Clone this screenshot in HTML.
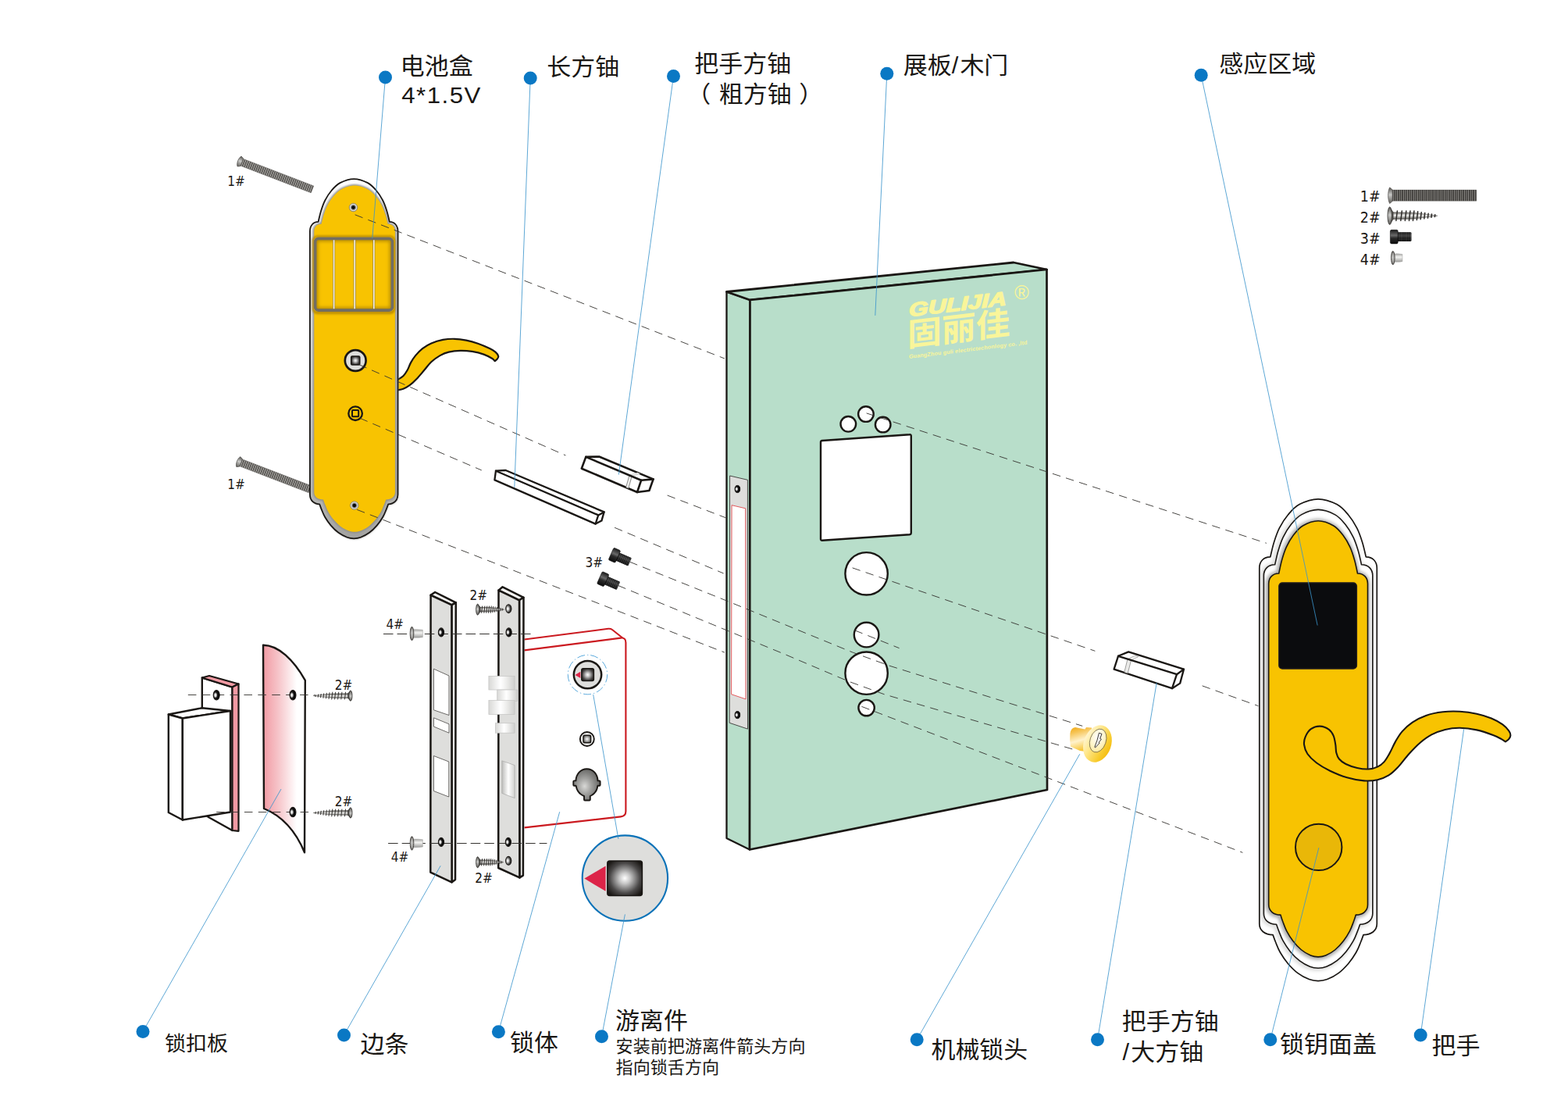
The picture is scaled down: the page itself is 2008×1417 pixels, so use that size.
<!DOCTYPE html>
<html lang="zh-CN">
<head>
<meta charset="utf-8">
<title>门锁安装示意图</title>
<style>
html,body{margin:0;padding:0;background:#fff;}
body{width:2008px;height:1417px;overflow:hidden;}
svg{display:block;}
</style>
</head>
<body>
<svg width="2008" height="1417" viewBox="0 0 2008 1417">
<defs>
<linearGradient id="gRim" x1="0" y1="0" x2="0" y2="1">
<stop offset="0" stop-color="#ffffff"/><stop offset="0.1" stop-color="#f0f0ef"/><stop offset="0.5" stop-color="#d4d4d2"/><stop offset="0.9" stop-color="#b4b4b2"/><stop offset="1" stop-color="#a2a2a0"/>
</linearGradient>
<linearGradient id="gRim2" x1="0" y1="0" x2="1" y2="0">
<stop offset="0" stop-color="#ffffff"/><stop offset="0.5" stop-color="#d9d9d7"/><stop offset="1" stop-color="#ffffff"/>
</linearGradient>
<linearGradient id="gPink" x1="0" y1="0" x2="1" y2="0">
<stop offset="0" stop-color="#f19aa3"/><stop offset="0.35" stop-color="#f6c3c8"/><stop offset="0.8" stop-color="#ffffff"/><stop offset="1" stop-color="#ffffff"/>
</linearGradient>
<radialGradient id="gHole" cx="0.36" cy="0.5" r="0.62">
<stop offset="0" stop-color="#ffffff"/><stop offset="0.22" stop-color="#e8e8e8"/><stop offset="0.6" stop-color="#5e5e5c"/><stop offset="1" stop-color="#0e0d0c"/>
</radialGradient>
<radialGradient id="gHoleD" cx="0.34" cy="0.5" r="0.5">
<stop offset="0" stop-color="#ffffff"/><stop offset="0.3" stop-color="#d8d8d8"/><stop offset="0.62" stop-color="#1c1b1a"/><stop offset="1" stop-color="#050505"/>
</radialGradient>
<radialGradient id="gSq" cx="0.5" cy="0.5" r="0.62">
<stop offset="0" stop-color="#ffffff"/><stop offset="0.25" stop-color="#c8c8c8"/><stop offset="0.7" stop-color="#4a4848"/><stop offset="1" stop-color="#1a1714"/>
</radialGradient>
<radialGradient id="gKey" cx="0.42" cy="0.55" r="0.62">
<stop offset="0" stop-color="#d8d8d6"/><stop offset="0.4" stop-color="#a2a2a0"/><stop offset="1" stop-color="#5c5c5a"/>
</radialGradient>
<radialGradient id="gSq2" cx="0.5" cy="0.5" r="0.62">
<stop offset="0" stop-color="#ffffff"/><stop offset="0.4" stop-color="#b8b8b6"/><stop offset="1" stop-color="#3a3a38"/>
</radialGradient>
<radialGradient id="gScrewHole" cx="0.5" cy="0.5" r="0.5">
<stop offset="0" stop-color="#000000"/><stop offset="0.3" stop-color="#111111"/><stop offset="0.55" stop-color="#8c8c8a"/><stop offset="0.8" stop-color="#e6e6e4"/><stop offset="1" stop-color="#777570"/>
</radialGradient>
<linearGradient id="gLatch" x1="0" y1="0" x2="1" y2="0">
<stop offset="0" stop-color="#d8d8d6"/><stop offset="0.45" stop-color="#ffffff"/><stop offset="0.6" stop-color="#f4f4f3"/><stop offset="1" stop-color="#cfcfcd"/>
</linearGradient>
<linearGradient id="gShiny" x1="0" y1="0" x2="1" y2="0">
<stop offset="0" stop-color="#bdbdbb"/><stop offset="0.5" stop-color="#ffffff"/><stop offset="1" stop-color="#d0d0ce"/>
</linearGradient>
<linearGradient id="gHead" x1="0" y1="0" x2="0" y2="1">
<stop offset="0" stop-color="#55534f"/><stop offset="0.45" stop-color="#c9c9c7"/><stop offset="1" stop-color="#5d5b57"/>
</linearGradient>
<linearGradient id="gShaft2" x1="0" y1="0" x2="0" y2="1">
<stop offset="0" stop-color="#6a6864"/><stop offset="0.45" stop-color="#f2f2f0"/><stop offset="1" stop-color="#55534f"/>
</linearGradient>
<linearGradient id="gPlug" x1="0" y1="0" x2="0" y2="1">
<stop offset="0" stop-color="#a5a5a3"/><stop offset="0.4" stop-color="#f4f4f2"/><stop offset="1" stop-color="#9b9b99"/>
</linearGradient>
<linearGradient id="gBlk" x1="0" y1="0" x2="0" y2="1">
<stop offset="0" stop-color="#1a1a1a"/><stop offset="0.4" stop-color="#6a6a6a"/><stop offset="0.6" stop-color="#2a2a2a"/><stop offset="1" stop-color="#0c0c0c"/>
</linearGradient>
<linearGradient id="gCyl" x1="0" y1="0" x2="0.25" y2="1">
<stop offset="0" stop-color="#f1aa12"/><stop offset="0.25" stop-color="#f6c456"/><stop offset="0.6" stop-color="#fff2cc"/><stop offset="1" stop-color="#f7c433"/>
</linearGradient>
<linearGradient id="gCylF" x1="0" y1="0.3" x2="1" y2="0.6">
<stop offset="0" stop-color="#fff6d4"/><stop offset="0.35" stop-color="#ffe88f"/><stop offset="0.8" stop-color="#f8cb2c"/><stop offset="1" stop-color="#f5bd10"/>
</linearGradient>
<radialGradient id="gCylI" cx="0.4" cy="0.35" r="0.7">
<stop offset="0" stop-color="#ffffff"/><stop offset="0.5" stop-color="#fff6d2"/><stop offset="1" stop-color="#ffe999"/>
</radialGradient>
<pattern id="pThread" width="2.6" height="20" patternUnits="userSpaceOnUse">
<rect width="2.6" height="20" fill="#4d4b48"/><rect x="1.5" width="1.1" height="20" fill="#b4b2ae"/>
</pattern>
<pattern id="pThreadD" width="2.6" height="20" patternUnits="userSpaceOnUse">
<rect width="2.6" height="20" fill="#403e3b"/><rect x="1.7" width="0.9" height="20" fill="#8f8d89"/>
</pattern>
<pattern id="pThreadB" width="2.4" height="20" patternUnits="userSpaceOnUse">
<rect width="2.4" height="20" fill="#121212"/><rect x="1.5" width="0.9" height="20" fill="#4e4e4e"/>
</pattern>
<filter id="fBlur1" x="-20%" y="-20%" width="140%" height="140%"><feGaussianBlur stdDeviation="1.2"/></filter>
<filter id="fBlur2" x="-20%" y="-20%" width="140%" height="140%"><feGaussianBlur stdDeviation="2.2"/></filter>
<filter id="fBlur05" x="-20%" y="-20%" width="140%" height="140%"><feGaussianBlur stdDeviation="0.6"/></filter>
</defs>
<rect width="2008" height="1417" fill="#ffffff"/>
<g id="door"><polygon points="930.5,373.5 960.5,384 960,1087.5 930.5,1073" fill="#b8deca" stroke="#1a1714" stroke-width="2.3" stroke-linejoin="round" />
<polygon points="930.5,373.5 1298,336 1340.5,345 960.5,384" fill="#b8deca" stroke="#1a1714" stroke-width="2.8" stroke-linejoin="round" />
<polygon points="960.5,384 1340.5,345 1341,1011 960,1087.5" fill="#b8deca" stroke="#1a1714" stroke-width="2.7" stroke-linejoin="round" />
<polygon points="934.6,609 957.4,614.3 957.5,933.1 934.2,925.3" fill="#dededc" stroke="#3a3835" stroke-width="0.9" stroke-linejoin="round" />
<polygon points="937.1,646.7 954.7,650.8 955,894.9 936.6,888.7" fill="#ffffff" stroke="#e0474b" stroke-width="0.9" stroke-linejoin="round" />
<ellipse cx="944.4" cy="626" rx="3.3" ry="4.6" fill="url(#gHoleD)" stroke="#1a1714" stroke-width="1" />
<ellipse cx="944.4" cy="915.1" rx="3.3" ry="4.6" fill="url(#gHoleD)" stroke="#1a1714" stroke-width="1" />
<circle cx="1086.3" cy="542.8" r="9.8" fill="#fff" stroke="#1a1714" stroke-width="2.4" />
<circle cx="1108.9" cy="530.1" r="9.8" fill="#fff" stroke="#1a1714" stroke-width="2.4" />
<circle cx="1130.7" cy="543.6" r="9.8" fill="#fff" stroke="#1a1714" stroke-width="2.4" />
<path d="M1053,564 L1164.8,556.3 Q1166.8,556.1 1166.8,558.1 L1166.8,682 Q1166.8,684 1164.8,684.2 L1053,691.8 Q1051,692 1051,690 L1051,566 Q1051,564.1 1053,564 Z" fill="#fff" stroke="#1a1714" stroke-width="2.4" stroke-linejoin="round" />
<circle cx="1109.6" cy="734.3" r="27.2" fill="#fff" stroke="#1a1714" stroke-width="2.4" />
<circle cx="1109.6" cy="812.6" r="15.8" fill="#fff" stroke="#1a1714" stroke-width="2.4" />
<circle cx="1109.6" cy="861.7" r="27.2" fill="#fff" stroke="#1a1714" stroke-width="2.4" />
<circle cx="1109.6" cy="906.1" r="10.2" fill="#fff" stroke="#1a1714" stroke-width="2.4" />
<g transform="translate(1163.6,404.1) skewY(-6.9)">
<text x="0.4" y="1.2" font-family="'Liberation Sans',sans-serif" font-weight="bold" font-style="italic" font-size="24.6" fill="#f9f59a" stroke="#f9f59a" stroke-width="1.4" stroke-linejoin="round" textLength="125" lengthAdjust="spacingAndGlyphs">GULIJIA</text>
<text x="-1.6" y="39.2" font-family="'Liberation Sans','Noto Sans CJK SC',sans-serif" font-weight="bold" font-size="41.2" fill="#f9f59a" textLength="131.5" lengthAdjust="spacingAndGlyphs">固丽佳</text>
<text x="0.3" y="55" font-family="'Liberation Sans',sans-serif" font-weight="bold" font-size="7.2" fill="#f9f59a" textLength="151.5" lengthAdjust="spacing">GuangZhou guli electrictechonlogy co. ,ltd</text>
</g>
<text x="1308.5" y="383.1" text-anchor="middle" font-family="'Liberation Sans',sans-serif" font-size="25.5" fill="#f9f59a">®</text></g>
<g id="screws1"><g transform="translate(306.5,206.5) rotate(21)">
<rect x="1.5" y="-4.8" width="98.7" height="9.6" rx="0.5" fill="url(#pThread)" stroke="none" stroke-width="0" />
<rect x="1.5" y="-4.8" width="98.7" height="9.6" rx="0.5" fill="none" stroke="#3d3b38" stroke-width="0.5" opacity="0.6"/>
<path d="M0,-6.91 C3.2,-5.53 3.2,-5.3 3.6,-4.8 L3.6,4.8 C3.2,5.3 3.2,5.53 0,6.91 C-2.6,3.46 -2.6,-3.46 0,-6.91 Z" fill="url(#gHead)" stroke="#4a4845" stroke-width="0.7" stroke-linejoin="round" />
</g>
<g transform="translate(305.3,591.1) rotate(21)">
<rect x="1.5" y="-4.8" width="98.7" height="9.6" rx="0.5" fill="url(#pThread)" stroke="none" stroke-width="0" />
<rect x="1.5" y="-4.8" width="98.7" height="9.6" rx="0.5" fill="none" stroke="#3d3b38" stroke-width="0.5" opacity="0.6"/>
<path d="M0,-6.91 C3.2,-5.53 3.2,-5.3 3.6,-4.8 L3.6,4.8 C3.2,5.3 3.2,5.53 0,6.91 C-2.6,3.46 -2.6,-3.46 0,-6.91 Z" fill="url(#gHead)" stroke="#4a4845" stroke-width="0.7" stroke-linejoin="round" />
</g></g>
<g id="backplate"><path d="M633.7,462.2 C633.08,461.63 632.37,460.23 630,458.8 C627.63,457.37 623.73,455.08 619.5,453.6 C615.27,452.12 609.58,450.7 604.6,449.9 C599.62,449.1 594.58,448.68 589.6,448.8 C584.62,448.92 579.05,449.55 574.7,450.6 C570.35,451.65 567.23,452.98 563.5,455.1 C559.77,457.22 555.67,460.18 552.3,463.3 C548.93,466.42 546.42,470.18 543.3,473.8 C540.18,477.42 536.72,481.77 533.6,485 C530.48,488.23 527.47,491.08 524.6,493.2 C521.73,495.32 518.88,496.7 516.4,497.7 C513.92,498.7 511.6,498.92 509.7,499.2 C507.8,499.48 505.78,501.35 505,499.4 C504.22,497.45 504.22,489.78 505,487.5 C505.78,485.22 507.8,486.73 509.7,485.7 C511.6,484.67 514.4,483.28 516.4,481.3 C518.4,479.32 520.08,476.67 521.7,473.8 C523.32,470.93 524.37,467.22 526.1,464.1 C527.83,460.98 529.6,458.1 532.1,455.1 C534.6,452.1 537.73,448.72 541.1,446.1 C544.47,443.48 547.95,441.27 552.3,439.4 C556.65,437.53 562.22,435.83 567.2,434.9 C572.18,433.97 577.22,433.67 582.2,433.8 C587.18,433.93 592.13,434.7 597.1,435.7 C602.07,436.7 607.02,438.07 612,439.8 C616.98,441.53 623.25,444.3 627,446.1 C630.75,447.9 632.63,448.97 634.5,450.6 C636.37,452.23 637.83,454.4 638.2,455.9 C638.57,457.4 637.45,458.55 636.7,459.6 C635.95,460.65 634.2,461.77 633.7,462.2 Z" fill="#f8c301" stroke="#1a1714" stroke-width="2.2" stroke-linejoin="round" />
<clipPath id="cBack"><path d="M396.9,296.1 C396.9,288.78 401.18,283.9 407.6,283.9 C408.17,281.62 409.58,274.77 411.02,270.2 C412.46,265.63 414.02,260.87 416.26,256.5 C418.51,252.13 421.28,247.73 424.47,244.01 C427.66,240.28 430.63,236.63 435.42,234.14 C440.2,231.66 447.27,229.1 453.2,229.1 C459.13,229.1 466.2,231.66 470.98,234.14 C475.77,236.63 478.74,240.28 481.93,244.01 C485.12,247.73 487.89,252.13 490.14,256.5 C492.38,260.87 493.94,265.63 495.38,270.2 C496.82,274.77 498.23,281.62 498.8,283.9 C505.22,283.9 509.5,288.78 509.5,296.1 L509.5,633.1 C509.5,640.42 504.58,645.3 497.2,645.3 C496.76,646.47 495.73,649.55 494.56,652.34 C493.39,655.13 492.14,658.65 490.16,662.02 C488.18,665.39 485.54,669.28 482.68,672.58 C479.82,675.88 476.45,679.29 473,681.82 C469.55,684.35 465.3,686.51 462,687.76 C458.7,689.01 456.13,689.3 453.2,689.3 C450.27,689.3 447.7,689.01 444.4,687.76 C441.1,686.51 436.85,684.35 433.4,681.82 C429.95,679.29 426.58,675.88 423.72,672.58 C420.86,669.28 418.22,665.39 416.24,662.02 C414.26,658.65 413.01,655.13 411.84,652.34 C410.67,649.55 409.64,646.47 409.2,645.3 C401.82,645.3 396.9,640.42 396.9,633.1 Z"/></clipPath>
<path d="M396.9,296.1 C396.9,288.78 401.18,283.9 407.6,283.9 C408.17,281.62 409.58,274.77 411.02,270.2 C412.46,265.63 414.02,260.87 416.26,256.5 C418.51,252.13 421.28,247.73 424.47,244.01 C427.66,240.28 430.63,236.63 435.42,234.14 C440.2,231.66 447.27,229.1 453.2,229.1 C459.13,229.1 466.2,231.66 470.98,234.14 C475.77,236.63 478.74,240.28 481.93,244.01 C485.12,247.73 487.89,252.13 490.14,256.5 C492.38,260.87 493.94,265.63 495.38,270.2 C496.82,274.77 498.23,281.62 498.8,283.9 C505.22,283.9 509.5,288.78 509.5,296.1 L509.5,633.1 C509.5,640.42 504.58,645.3 497.2,645.3 C496.76,646.47 495.73,649.55 494.56,652.34 C493.39,655.13 492.14,658.65 490.16,662.02 C488.18,665.39 485.54,669.28 482.68,672.58 C479.82,675.88 476.45,679.29 473,681.82 C469.55,684.35 465.3,686.51 462,687.76 C458.7,689.01 456.13,689.3 453.2,689.3 C450.27,689.3 447.7,689.01 444.4,687.76 C441.1,686.51 436.85,684.35 433.4,681.82 C429.95,679.29 426.58,675.88 423.72,672.58 C420.86,669.28 418.22,665.39 416.24,662.02 C414.26,658.65 413.01,655.13 411.84,652.34 C410.67,649.55 409.64,646.47 409.2,645.3 C401.82,645.3 396.9,640.42 396.9,633.1 Z" fill="#b0b0ae" stroke="none" stroke-width="0" stroke-linejoin="round" filter="url(#fBlur1)" transform="translate(0.6,1.2)" opacity="0.8"/>
<path d="M396.9,296.1 C396.9,288.78 401.18,283.9 407.6,283.9 C408.17,281.62 409.58,274.77 411.02,270.2 C412.46,265.63 414.02,260.87 416.26,256.5 C418.51,252.13 421.28,247.73 424.47,244.01 C427.66,240.28 430.63,236.63 435.42,234.14 C440.2,231.66 447.27,229.1 453.2,229.1 C459.13,229.1 466.2,231.66 470.98,234.14 C475.77,236.63 478.74,240.28 481.93,244.01 C485.12,247.73 487.89,252.13 490.14,256.5 C492.38,260.87 493.94,265.63 495.38,270.2 C496.82,274.77 498.23,281.62 498.8,283.9 C505.22,283.9 509.5,288.78 509.5,296.1 L509.5,633.1 C509.5,640.42 504.58,645.3 497.2,645.3 C496.76,646.47 495.73,649.55 494.56,652.34 C493.39,655.13 492.14,658.65 490.16,662.02 C488.18,665.39 485.54,669.28 482.68,672.58 C479.82,675.88 476.45,679.29 473,681.82 C469.55,684.35 465.3,686.51 462,687.76 C458.7,689.01 456.13,689.3 453.2,689.3 C450.27,689.3 447.7,689.01 444.4,687.76 C441.1,686.51 436.85,684.35 433.4,681.82 C429.95,679.29 426.58,675.88 423.72,672.58 C420.86,669.28 418.22,665.39 416.24,662.02 C414.26,658.65 413.01,655.13 411.84,652.34 C410.67,649.55 409.64,646.47 409.2,645.3 C401.82,645.3 396.9,640.42 396.9,633.1 Z" fill="url(#gRim)" stroke="none" stroke-width="0" stroke-linejoin="round" />
<g clip-path="url(#cBack)">
<path d="M402.3,296.3 C402.3,290.6 406.02,286.8 411.6,286.8 C412.13,284.75 413.44,278.6 414.79,274.5 C416.13,270.4 417.59,266.12 419.68,262.2 C421.76,258.28 424.35,254.33 427.33,250.98 C430.3,247.64 433.06,244.36 437.53,242.13 C441.99,239.9 448.58,237.6 454.1,237.6 C459.62,237.6 466.21,239.9 470.68,242.13 C475.14,244.36 477.9,247.64 480.88,250.98 C483.85,254.33 486.44,258.28 488.53,262.2 C490.61,266.12 492.07,270.4 493.41,274.5 C494.76,278.6 496.07,284.75 496.6,286.8 C502.18,286.8 505.9,290.6 505.9,296.3 L505.9,630 C505.9,635.7 501.22,639.5 494.2,639.5 C493.8,640.6 492.86,643.49 491.79,646.11 C490.72,648.72 489.59,652.03 487.78,655.19 C485.98,658.36 483.57,662.01 480.97,665.11 C478.36,668.2 475.29,671.4 472.15,673.78 C469,676.15 465.13,678.18 462.12,679.35 C459.11,680.52 456.77,680.8 454.1,680.8 C451.43,680.8 449.09,680.52 446.08,679.35 C443.07,678.18 439.2,676.15 436.06,673.78 C432.91,671.4 429.84,668.2 427.23,665.11 C424.63,662.01 422.22,658.36 420.42,655.19 C418.61,652.03 417.48,648.72 416.41,646.11 C415.34,643.49 414.4,640.6 414,639.5 C406.98,639.5 402.3,635.7 402.3,630 Z" fill="none" stroke="#8f8f8c" stroke-width="3.2" stroke-linejoin="round" filter="url(#fBlur1)"/>
<path d="M402.3,296.3 C402.3,290.6 406.02,286.8 411.6,286.8 C412.13,284.75 413.44,278.6 414.79,274.5 C416.13,270.4 417.59,266.12 419.68,262.2 C421.76,258.28 424.35,254.33 427.33,250.98 C430.3,247.64 433.06,244.36 437.53,242.13 C441.99,239.9 448.58,237.6 454.1,237.6 C459.62,237.6 466.21,239.9 470.68,242.13 C475.14,244.36 477.9,247.64 480.88,250.98 C483.85,254.33 486.44,258.28 488.53,262.2 C490.61,266.12 492.07,270.4 493.41,274.5 C494.76,278.6 496.07,284.75 496.6,286.8 C502.18,286.8 505.9,290.6 505.9,296.3 L505.9,630 C505.9,635.7 501.22,639.5 494.2,639.5 C493.8,640.6 492.86,643.49 491.79,646.11 C490.72,648.72 489.59,652.03 487.78,655.19 C485.98,658.36 483.57,662.01 480.97,665.11 C478.36,668.2 475.29,671.4 472.15,673.78 C469,676.15 465.13,678.18 462.12,679.35 C459.11,680.52 456.77,680.8 454.1,680.8 C451.43,680.8 449.09,680.52 446.08,679.35 C443.07,678.18 439.2,676.15 436.06,673.78 C432.91,671.4 429.84,668.2 427.23,665.11 C424.63,662.01 422.22,658.36 420.42,655.19 C418.61,652.03 417.48,648.72 416.41,646.11 C415.34,643.49 414.4,640.6 414,639.5 C406.98,639.5 402.3,635.7 402.3,630 Z" fill="#f8c301" stroke="none" stroke-width="0" stroke-linejoin="round" />
</g>
<path d="M396.9,296.1 C396.9,288.78 401.18,283.9 407.6,283.9 C408.17,281.62 409.58,274.77 411.02,270.2 C412.46,265.63 414.02,260.87 416.26,256.5 C418.51,252.13 421.28,247.73 424.47,244.01 C427.66,240.28 430.63,236.63 435.42,234.14 C440.2,231.66 447.27,229.1 453.2,229.1 C459.13,229.1 466.2,231.66 470.98,234.14 C475.77,236.63 478.74,240.28 481.93,244.01 C485.12,247.73 487.89,252.13 490.14,256.5 C492.38,260.87 493.94,265.63 495.38,270.2 C496.82,274.77 498.23,281.62 498.8,283.9 C505.22,283.9 509.5,288.78 509.5,296.1 L509.5,633.1 C509.5,640.42 504.58,645.3 497.2,645.3 C496.76,646.47 495.73,649.55 494.56,652.34 C493.39,655.13 492.14,658.65 490.16,662.02 C488.18,665.39 485.54,669.28 482.68,672.58 C479.82,675.88 476.45,679.29 473,681.82 C469.55,684.35 465.3,686.51 462,687.76 C458.7,689.01 456.13,689.3 453.2,689.3 C450.27,689.3 447.7,689.01 444.4,687.76 C441.1,686.51 436.85,684.35 433.4,681.82 C429.95,679.29 426.58,675.88 423.72,672.58 C420.86,669.28 418.22,665.39 416.24,662.02 C414.26,658.65 413.01,655.13 411.84,652.34 C410.67,649.55 409.64,646.47 409.2,645.3 C401.82,645.3 396.9,640.42 396.9,633.1 Z" fill="none" stroke="#1a1714" stroke-width="1.8" stroke-linejoin="round" />
<clipPath id="cBat"><rect x="403.3" y="305.1" width="99.4" height="92.4" rx="4"/></clipPath>
<g clip-path="url(#cBack)">
<rect x="399.6" y="301.2" width="106.8" height="101" rx="7" fill="#b98a00" stroke="none" stroke-width="0" filter="url(#fBlur1)" opacity="0.85"/>
</g>
<rect x="401.8" y="303.6" width="102.4" height="95.4" rx="5" fill="#f8c301" stroke="none" stroke-width="0" />
<g clip-path="url(#cBat)">
<rect x="403.5" y="305.3" width="99" height="92" rx="4" fill="none" stroke="#b58a00" stroke-width="7.5" filter="url(#fBlur2)"/>
<line x1="427" y1="303.6" x2="427" y2="399" stroke="#b08600" stroke-width="5.5" filter="url(#fBlur1)" opacity="0.8"/>
<line x1="453.6" y1="303.6" x2="453.6" y2="399" stroke="#b08600" stroke-width="5.5" filter="url(#fBlur1)" opacity="0.8"/>
<line x1="478.2" y1="303.6" x2="478.2" y2="399" stroke="#b08600" stroke-width="5.5" filter="url(#fBlur1)" opacity="0.8"/>
<line x1="427.6" y1="303.6" x2="427.6" y2="399" stroke="#8d7a3a" stroke-width="3.2" opacity="0.8"/>
<line x1="427.6" y1="303.6" x2="427.6" y2="399" stroke="#f1ecdf" stroke-width="1.7" />
<line x1="454.2" y1="303.6" x2="454.2" y2="399" stroke="#8d7a3a" stroke-width="3.2" opacity="0.8"/>
<line x1="454.2" y1="303.6" x2="454.2" y2="399" stroke="#f1ecdf" stroke-width="1.7" />
<line x1="478.8" y1="303.6" x2="478.8" y2="399" stroke="#8d7a3a" stroke-width="3.2" opacity="0.8"/>
<line x1="478.8" y1="303.6" x2="478.8" y2="399" stroke="#f1ecdf" stroke-width="1.7" />
</g>
<rect x="403.6" y="305.4" width="98.8" height="91.8" rx="4" fill="none" stroke="#716d63" stroke-width="3.7" />
<circle cx="452.5" cy="265.5" r="5.3" fill="url(#gScrewHole)" stroke="#8a8880" stroke-width="0.6" />
<circle cx="452.5" cy="265.5" r="1.9" fill="#0a0a0a" stroke="none" stroke-width="0" />
<circle cx="453.8" cy="647" r="5.3" fill="url(#gScrewHole)" stroke="#8a8880" stroke-width="0.6" />
<circle cx="453.8" cy="647" r="1.9" fill="#0a0a0a" stroke="none" stroke-width="0" />
<circle cx="455.2" cy="461.5" r="13.4" fill="#dededc" stroke="#1a1714" stroke-width="2.7" />
<rect x="449.7" y="456" width="11" height="11" rx="1.2" fill="url(#gSq)" stroke="#1a1714" stroke-width="1.6" />
<circle cx="455.1" cy="529.2" r="8.8" fill="#f8c301" stroke="#1a1714" stroke-width="2.3" />
<rect x="451" y="525.1" width="8.2" height="8.2" rx="0.8" fill="#f8c301" stroke="#1a1714" stroke-width="2" /></g>
<g id="shafts"><polygon points="635,602.7 647.6,602 773.6,655.4 770.4,666.6 762.6,670.6 633.4,614.4" fill="#fff" stroke="#1a1714" stroke-width="2.3" stroke-linejoin="round" />
<polyline points="635,602.7 766.2,659.4 762.6,670.6" fill="none" stroke="#1a1714" stroke-width="2.3" stroke-linejoin="round" stroke-linecap="round" />
<polyline points="766.2,659.4 773.6,655.4" fill="none" stroke="#1a1714" stroke-width="2.3" stroke-linejoin="round" stroke-linecap="round" />
<polygon points="750.3,584.9 767.3,584.5 836.6,613.4 831.4,628 816,630 744.8,599.7" fill="#fff" stroke="#1a1714" stroke-width="2.6" stroke-linejoin="round" />
<polygon points="806,608.2 809.2,609.6 804.8,625.2 801.6,623.8" fill="#f0f0ee" stroke="#5f5f5d" stroke-width="0.7" stroke-linejoin="round" /><polygon points="806,608.2 809.2,609.6 819.5,606.4 816.5,605" fill="#f4f4f2" stroke="#b0b0ae" stroke-width="0.6" stroke-linejoin="round" />
<polyline points="750.3,584.9 821.1,614.8 816,630" fill="none" stroke="#1a1714" stroke-width="2.6" stroke-linejoin="round" stroke-linecap="round" />
<polyline points="821.1,614.8 836.6,613.4" fill="none" stroke="#1a1714" stroke-width="2.6" stroke-linejoin="round" stroke-linecap="round" />
<polygon points="1432,839.8 1445.2,834.4 1516,856.6 1511.2,874.6 1501,881.2 1426.6,856.6" fill="#fff" stroke="#1a1714" stroke-width="2.3" stroke-linejoin="round" />
<polygon points="1444,843.6 1448.6,845.1 1444.2,861.9 1439.8,860.5" fill="#ebebe9" stroke="#777775" stroke-width="0.7" stroke-linejoin="round" />
<polygon points="1444,843.6 1448.6,845.1 1457.8,840.6 1453.6,839.2" fill="#f2f2f0" stroke="#8a8a88" stroke-width="0.6" stroke-linejoin="round" />
<polyline points="1432,839.8 1507,863.2 1501,881.2" fill="none" stroke="#1a1714" stroke-width="2.3" stroke-linejoin="round" stroke-linecap="round" />
<polyline points="1507,863.2 1516,856.6" fill="none" stroke="#1a1714" stroke-width="2.3" stroke-linejoin="round" stroke-linecap="round" /></g>
<g id="strike"><polygon points="258.8,867.5 297.5,879.5 297.5,1063 267.5,1046.2 258.8,1040" fill="#fff" stroke="#1a1714" stroke-width="2.4" stroke-linejoin="round" />
<polygon points="258.8,867.5 268,865 305.5,875.5 297.5,879.5" fill="#f19aa3" stroke="#1a1714" stroke-width="2.2" stroke-linejoin="round" />
<polygon points="297.5,879.5 305.5,875.5 305.5,1063.8 297.5,1063" fill="#f19aa3" stroke="#1a1714" stroke-width="2.2" stroke-linejoin="round" />
<polygon points="215.8,914.5 258.8,906.2 295,910 233.8,919.5" fill="#fff" stroke="#1a1714" stroke-width="2.4" stroke-linejoin="round" />
<polygon points="215.8,914.5 233.8,919.5 233.8,1049.5 215.8,1040" fill="#fff" stroke="#1a1714" stroke-width="2.4" stroke-linejoin="round" />
<polygon points="233.8,919.5 295,910 295,1039.5 233.8,1049.5" fill="#fff" stroke="#1a1714" stroke-width="2.4" stroke-linejoin="round" />
<path d="M337,825.8 C357,826 376,845 390.8,870.8 L390,1091.2 C378,1062 360,1044 338,1035 Z" fill="url(#gPink)" stroke="#1a1714" stroke-width="2.4" stroke-linejoin="round" /></g>
<g id="lockbody"><path d="M671.6,818.4 L779,804.8 Q782,804.5 784,806 L798.5,817.5" fill="none" stroke="#cb1a20" stroke-width="2" stroke-linejoin="round" />
<path d="M671.6,832.4 L795,816.6 Q801.4,816 801.4,822.5 L801.4,1038.5 Q801.4,1044.6 795,1045.4 L671.6,1059.4" fill="#fff" stroke="#cb1a20" stroke-width="2.1" stroke-linejoin="round" />
<circle cx="752.5" cy="863.6" r="25.2" fill="none" stroke="#49a0d8" stroke-width="0.9" stroke-dasharray="10 3 1.4 3"/>
<circle cx="752.5" cy="863.6" r="17.7" fill="#dededc" stroke="#1a1714" stroke-width="2.5" />
<rect x="744.8" y="855.8" width="15.6" height="15.8" rx="2" fill="url(#gSq)" stroke="#1a1714" stroke-width="1.5" />
<polygon points="736.4,863.9 743.3,859.8 743.3,868.1" fill="#dc2448" stroke="none" stroke-width="0" stroke-linejoin="round" />
<circle cx="751.8" cy="946" r="9" fill="#f4f4f2" stroke="#1a1714" stroke-width="1.9" />
<rect x="747" y="941.2" width="9.6" height="9.6" rx="1.5" fill="url(#gSq2)" stroke="#1a1714" stroke-width="1.5" />
<path d="M751.5,984.2 C759.5,984.2 765.3,991 765.6,999.4 L767.6,999.4 Q768.6,999.4 768.6,1000.4 L768.6,1004.8 Q768.6,1005.8 767.6,1005.8 L765.4,1005.8 C764.6,1011.5 761,1016.8 755.8,1019 L755.8,1023.5 Q755.8,1024.5 754.8,1024.5 L749,1024.5 Q748,1024.5 748,1023.5 L748,1019 C742.4,1016.8 738.6,1011.5 737.6,1005.8 L735.3,1005.8 Q734.3,1005.8 734.3,1004.8 L734.3,1000.4 Q734.3,999.4 735.3,999.4 L737.4,999.4 C737.7,991 743.5,984.2 751.5,984.2 Z" fill="url(#gKey)" stroke="#1a1714" stroke-width="1.9" stroke-linejoin="round" />
<circle cx="800.4" cy="1124.1" r="54.7" fill="#dededc" stroke="#0a72b8" stroke-width="2.1" />
<rect x="777.8" y="1101.9" width="44.6" height="44.6" rx="3" fill="url(#gSq)" stroke="#1a1714" stroke-width="1.5" />
<polygon points="748.4,1124.6 775.6,1108.4 775.6,1140.8" fill="#dc2448" stroke="none" stroke-width="0" stroke-linejoin="round" /></g>
<g id="bars"><polygon points="551.6,761.8 557.1,758 583.8,771.3 583,1126 578.6,1129.3 551.3,1116.6" fill="#dededc" stroke="none" stroke-width="0" stroke-linejoin="round" />
<polygon points="551.6,761.8 557.1,758 583.8,771.3 578.4,774.4" fill="#f3f3f1" stroke="#1a1714" stroke-width="2.5" stroke-linejoin="round" />
<polygon points="578.4,774.4 583.8,771.3 583,1126 578.6,1129.3" fill="#ededeb" stroke="#1a1714" stroke-width="2.5" stroke-linejoin="round" />
<polygon points="551.6,761.8 578.4,774.4 578.6,1129.3 551.3,1116.6" fill="#dededc" stroke="#1a1714" stroke-width="2.5" stroke-linejoin="round" />
<polygon points="555.4,856.2 575,865 575,915.5 555.4,908.8" fill="#fff" stroke="#4a4845" stroke-width="0.8" stroke-linejoin="round" />
<polygon points="555.4,918.8 575,926.8 575,938.2 555.4,930" fill="#fff" stroke="#4a4845" stroke-width="0.8" stroke-linejoin="round" />
<polygon points="555.4,967.5 574.8,975 574.8,1020 555.4,1012.5" fill="#fff" stroke="#4a4845" stroke-width="0.8" stroke-linejoin="round" />
<polygon points="638.5,755.6 643.6,751.3 670.5,764.8 669.9,1120.6 665.4,1123.4 638.2,1111" fill="#dededc" stroke="none" stroke-width="0" stroke-linejoin="round" />
<polygon points="638.5,755.6 643.6,751.3 670.5,764.8 665,768.3" fill="#f3f3f1" stroke="#1a1714" stroke-width="2.5" stroke-linejoin="round" />
<polygon points="665,768.3 670.5,764.8 669.9,1120.6 665.4,1123.4" fill="#ededeb" stroke="#1a1714" stroke-width="2.5" stroke-linejoin="round" />
<polygon points="638.5,755.6 665,768.3 665.4,1123.4 638.2,1111" fill="#dededc" stroke="#1a1714" stroke-width="2.5" stroke-linejoin="round" />
<rect x="625.9" y="865.4" width="33.2" height="17.6" rx="0" fill="url(#gLatch)" stroke="#c4c4c2" stroke-width="0.7" />
<rect x="636.7" y="883" width="25.8" height="14.6" rx="0" fill="url(#gLatch)" stroke="#c4c4c2" stroke-width="0.7" />
<rect x="625.9" y="896.6" width="33.2" height="17.9" rx="0" fill="url(#gLatch)" stroke="#c4c4c2" stroke-width="0.7" />
<rect x="634.4" y="925.7" width="24.7" height="12.5" rx="0" fill="url(#gLatch)" stroke="#c4c4c2" stroke-width="0.7" />
<polygon points="642.8,973.8 659.2,979.6 659.2,1021.6 642.8,1015.4" fill="url(#gShiny)" stroke="#a8a8a6" stroke-width="0.7" stroke-linejoin="round" /></g>
<g id="dashed"><polyline points="455,275 927.5,458.8" fill="none" stroke="#34322f" stroke-width="0.9" stroke-linejoin="round" stroke-linecap="round" stroke-dasharray="9.8 8.1" stroke-linecap="butt"/>
<polyline points="460,466.8 724,582.8" fill="none" stroke="#34322f" stroke-width="0.9" stroke-linejoin="round" stroke-linecap="round" stroke-dasharray="9.8 8.1" stroke-linecap="butt"/>
<polyline points="461.2,535.4 616.4,601.8" fill="none" stroke="#34322f" stroke-width="0.9" stroke-linejoin="round" stroke-linecap="round" stroke-dasharray="9.8 8.1" stroke-linecap="butt"/>
<polyline points="457.5,652.5 927.5,835" fill="none" stroke="#34322f" stroke-width="0.9" stroke-linejoin="round" stroke-linecap="round" stroke-dasharray="9.8 8.1" stroke-linecap="butt"/>
<polyline points="855,634.2 929,662.6" fill="none" stroke="#34322f" stroke-width="0.9" stroke-linejoin="round" stroke-linecap="round" stroke-dasharray="9.8 8.1" stroke-linecap="butt"/>
<polyline points="787.5,675.5 926.2,733.8" fill="none" stroke="#34322f" stroke-width="0.9" stroke-linejoin="round" stroke-linecap="round" stroke-dasharray="9.8 8.1" stroke-linecap="butt"/>
<polyline points="1110,529 1444,637.5 1621.5,695.2" fill="none" stroke="#34322f" stroke-width="0.9" stroke-linejoin="round" stroke-linecap="round" stroke-dasharray="9.8 8.1" stroke-linecap="butt"/>
<polyline points="1092,727 1402,833.2" fill="none" stroke="#34322f" stroke-width="0.9" stroke-linejoin="round" stroke-linecap="round" stroke-dasharray="9.8 8.1" stroke-linecap="butt"/>
<polyline points="1095,807 1151.2,829.5" fill="none" stroke="#34322f" stroke-width="0.9" stroke-linejoin="round" stroke-linecap="round" stroke-dasharray="9.8 8.1" stroke-linecap="butt"/>
<polyline points="806.7,719.3 930,768.8 1092.5,835.3 1140,852.5 1385.8,929.2" fill="none" stroke="#34322f" stroke-width="0.9" stroke-linejoin="round" stroke-linecap="round" stroke-dasharray="9.8 8.1" stroke-linecap="butt"/>
<polyline points="791.8,749.6 1005,837.5 1087.5,872.5 1132.5,888.8 1378.6,960.4" fill="none" stroke="#34322f" stroke-width="0.9" stroke-linejoin="round" stroke-linecap="round" stroke-dasharray="9.8 8.1" stroke-linecap="butt"/>
<polyline points="1103.8,904.5 1591,1091.2" fill="none" stroke="#34322f" stroke-width="0.9" stroke-linejoin="round" stroke-linecap="round" stroke-dasharray="9.8 8.1" stroke-linecap="butt"/>
<polyline points="1540,878 1611,903.5" fill="none" stroke="#34322f" stroke-width="0.9" stroke-linejoin="round" stroke-linecap="round" stroke-dasharray="9.8 8.1" stroke-linecap="butt"/>
<polyline points="241.2,889.5 402.5,889.5" fill="none" stroke="#34322f" stroke-width="0.9" stroke-linejoin="round" stroke-linecap="round" stroke-dasharray="9.8 8.1" stroke-linecap="butt"/>
<polyline points="277.5,1039.5 402.5,1039.5" fill="none" stroke="#34322f" stroke-width="0.9" stroke-linejoin="round" stroke-linecap="round" stroke-dasharray="9.8 8.1" stroke-linecap="butt"/>
<polyline points="491.4,811.5 680.5,811.5" fill="none" stroke="#34322f" stroke-width="1.15" stroke-linejoin="round" stroke-linecap="round" stroke-dasharray="11.7 5.9" stroke-linecap="butt"/>
<polyline points="497.5,1079.5 700,1079.5" fill="none" stroke="#34322f" stroke-width="1.15" stroke-linejoin="round" stroke-linecap="round" stroke-dasharray="11.7 5.9" stroke-linecap="butt"/></g>
<g id="holes"><ellipse cx="277.2" cy="889.8" rx="4" ry="6.2" fill="url(#gHoleD)" stroke="#1a1714" stroke-width="1.1" />
<ellipse cx="375" cy="889.8" rx="4" ry="6.2" fill="url(#gHoleD)" stroke="#1a1714" stroke-width="1.1" />
<ellipse cx="375" cy="1039.6" rx="4" ry="6.2" fill="url(#gHoleD)" stroke="#1a1714" stroke-width="1.1" />
<ellipse cx="565" cy="809.4" rx="3.6" ry="5.5" fill="url(#gHoleD)" stroke="#1a1714" stroke-width="1.1" />
<ellipse cx="565" cy="1077.9" rx="3.6" ry="5.5" fill="url(#gHoleD)" stroke="#1a1714" stroke-width="1.1" />
<ellipse cx="651.3" cy="779.2" rx="3.6" ry="5.4" fill="url(#gHole)" stroke="#1a1714" stroke-width="1.1" />
<ellipse cx="651.6" cy="809.4" rx="3.6" ry="5.5" fill="url(#gHoleD)" stroke="#1a1714" stroke-width="1.1" />
<ellipse cx="650.9" cy="1077.9" rx="3.6" ry="5.5" fill="url(#gHoleD)" stroke="#1a1714" stroke-width="1.1" />
<ellipse cx="651.2" cy="1101.8" rx="3.6" ry="5.4" fill="url(#gHole)" stroke="#1a1714" stroke-width="1.1" /></g>
<g id="screws"><text x="291.3" y="238" font-family="'DejaVu Sans Condensed','DejaVu Sans','Liberation Sans',sans-serif" font-size="17" fill="#1a1714" >1#</text>
<text x="291.3" y="625.5" font-family="'DejaVu Sans Condensed','DejaVu Sans','Liberation Sans',sans-serif" font-size="17" fill="#1a1714" >1#</text>
<g transform="translate(782.6,708.8) rotate(24) scale(0.97)">
<rect x="9" y="-5.8" width="18" height="11.6" rx="1.2" fill="url(#pThreadB)" stroke="none" stroke-width="0" />
<rect x="9" y="-5.8" width="18" height="11.6" rx="1.2" fill="url(#gBlk)" stroke="none" stroke-width="0" opacity="0.45"/>
<rect x="0" y="-8.8" width="9.8" height="17.6" rx="1.6" fill="url(#gBlk)" stroke="#0a0a0a" stroke-width="0.6" />
</g>
<g transform="translate(767.9,739.3) rotate(24) scale(0.97)">
<rect x="9" y="-5.8" width="18" height="11.6" rx="1.2" fill="url(#pThreadB)" stroke="none" stroke-width="0" />
<rect x="9" y="-5.8" width="18" height="11.6" rx="1.2" fill="url(#gBlk)" stroke="none" stroke-width="0" opacity="0.45"/>
<rect x="0" y="-8.8" width="9.8" height="17.6" rx="1.6" fill="url(#gBlk)" stroke="#0a0a0a" stroke-width="0.6" />
</g>
<text x="749.6" y="726" font-family="'DejaVu Sans Condensed','DejaVu Sans','Liberation Sans',sans-serif" font-size="17" fill="#1a1714" >3#</text>
<g transform="translate(450.4,890.6) rotate(180)">
<path d="M3.75,-2.9 L24.6,-2.67 L49.2,0 L24.6,2.67 L3.75,2.9 Z" fill="url(#gShaft2)" stroke="#4a4845" stroke-width="0.5" stroke-linejoin="round" />
<path d="M8.94,-4.4 L7.89,4.4" fill="none" stroke="#2b2927" stroke-width="0.95" stroke-linejoin="round" stroke-linecap="round"/>
<path d="M13.57,-4.4 L12.51,4.4" fill="none" stroke="#2b2927" stroke-width="0.95" stroke-linejoin="round" stroke-linecap="round"/>
<path d="M17.81,-4.4 L16.75,4.4" fill="none" stroke="#2b2927" stroke-width="0.95" stroke-linejoin="round" stroke-linecap="round"/>
<path d="M21.81,-4.4 L20.76,4.4" fill="none" stroke="#2b2927" stroke-width="0.95" stroke-linejoin="round" stroke-linecap="round"/>
<path d="M25.68,-4.51 L24.6,4.51" fill="none" stroke="#2b2927" stroke-width="0.95" stroke-linejoin="round" stroke-linecap="round"/>
<path d="M29.34,-3.91 L28.4,3.91" fill="none" stroke="#2b2927" stroke-width="0.95" stroke-linejoin="round" stroke-linecap="round"/>
<path d="M32.91,-3.33 L32.11,3.33" fill="none" stroke="#2b2927" stroke-width="0.95" stroke-linejoin="round" stroke-linecap="round"/>
<path d="M36.4,-2.75 L35.73,2.75" fill="none" stroke="#2b2927" stroke-width="0.95" stroke-linejoin="round" stroke-linecap="round"/>
<path d="M39.82,-2.19 L39.29,2.19" fill="none" stroke="#2b2927" stroke-width="0.95" stroke-linejoin="round" stroke-linecap="round"/>
<path d="M43.18,-1.64 L42.79,1.64" fill="none" stroke="#2b2927" stroke-width="0.95" stroke-linejoin="round" stroke-linecap="round"/>
<path d="M46.49,-1.1 L46.23,1.1" fill="none" stroke="#2b2927" stroke-width="0.95" stroke-linejoin="round" stroke-linecap="round"/>
<path d="M2.25,-5.76 L5,-2.9 L5,2.9 L2.25,5.76 Z" fill="#55534f" stroke="#2b2927" stroke-width="0.5" stroke-linejoin="round" />
<ellipse cx="1.5" cy="0" rx="2.1" ry="6.7" fill="url(#gHead)" stroke="#2b2927" stroke-width="0.8" />
</g>
<g transform="translate(450.4,1040.4) rotate(180)">
<path d="M3.75,-2.9 L24.6,-2.67 L49.2,0 L24.6,2.67 L3.75,2.9 Z" fill="url(#gShaft2)" stroke="#4a4845" stroke-width="0.5" stroke-linejoin="round" />
<path d="M8.94,-4.4 L7.89,4.4" fill="none" stroke="#2b2927" stroke-width="0.95" stroke-linejoin="round" stroke-linecap="round"/>
<path d="M13.57,-4.4 L12.51,4.4" fill="none" stroke="#2b2927" stroke-width="0.95" stroke-linejoin="round" stroke-linecap="round"/>
<path d="M17.81,-4.4 L16.75,4.4" fill="none" stroke="#2b2927" stroke-width="0.95" stroke-linejoin="round" stroke-linecap="round"/>
<path d="M21.81,-4.4 L20.76,4.4" fill="none" stroke="#2b2927" stroke-width="0.95" stroke-linejoin="round" stroke-linecap="round"/>
<path d="M25.68,-4.51 L24.6,4.51" fill="none" stroke="#2b2927" stroke-width="0.95" stroke-linejoin="round" stroke-linecap="round"/>
<path d="M29.34,-3.91 L28.4,3.91" fill="none" stroke="#2b2927" stroke-width="0.95" stroke-linejoin="round" stroke-linecap="round"/>
<path d="M32.91,-3.33 L32.11,3.33" fill="none" stroke="#2b2927" stroke-width="0.95" stroke-linejoin="round" stroke-linecap="round"/>
<path d="M36.4,-2.75 L35.73,2.75" fill="none" stroke="#2b2927" stroke-width="0.95" stroke-linejoin="round" stroke-linecap="round"/>
<path d="M39.82,-2.19 L39.29,2.19" fill="none" stroke="#2b2927" stroke-width="0.95" stroke-linejoin="round" stroke-linecap="round"/>
<path d="M43.18,-1.64 L42.79,1.64" fill="none" stroke="#2b2927" stroke-width="0.95" stroke-linejoin="round" stroke-linecap="round"/>
<path d="M46.49,-1.1 L46.23,1.1" fill="none" stroke="#2b2927" stroke-width="0.95" stroke-linejoin="round" stroke-linecap="round"/>
<path d="M2.25,-5.76 L5,-2.9 L5,2.9 L2.25,5.76 Z" fill="#55534f" stroke="#2b2927" stroke-width="0.5" stroke-linejoin="round" />
<ellipse cx="1.5" cy="0" rx="2.1" ry="6.7" fill="url(#gHead)" stroke="#2b2927" stroke-width="0.8" />
</g>
<text x="428.7" y="883" font-family="'DejaVu Sans Condensed','DejaVu Sans','Liberation Sans',sans-serif" font-size="17" fill="#1a1714" >2#</text>
<text x="428.7" y="1032.3" font-family="'DejaVu Sans Condensed','DejaVu Sans','Liberation Sans',sans-serif" font-size="17" fill="#1a1714" >2#</text>
<g transform="translate(610.2,780.2) rotate(0)">
<path d="M3.75,-2.9 L17.8,-2.67 L35.6,0 L17.8,2.67 L3.75,2.9 Z" fill="url(#gShaft2)" stroke="#4a4845" stroke-width="0.5" stroke-linejoin="round" />
<path d="M7.47,-4.2 L6.47,4.2" fill="none" stroke="#2b2927" stroke-width="0.95" stroke-linejoin="round" stroke-linecap="round"/>
<path d="M10.67,-4.2 L9.66,4.2" fill="none" stroke="#2b2927" stroke-width="0.95" stroke-linejoin="round" stroke-linecap="round"/>
<path d="M13.6,-4.2 L12.59,4.2" fill="none" stroke="#2b2927" stroke-width="0.95" stroke-linejoin="round" stroke-linecap="round"/>
<path d="M16.36,-4.2 L15.36,4.2" fill="none" stroke="#2b2927" stroke-width="0.95" stroke-linejoin="round" stroke-linecap="round"/>
<path d="M19.03,-4.25 L18.01,4.25" fill="none" stroke="#2b2927" stroke-width="0.95" stroke-linejoin="round" stroke-linecap="round"/>
<path d="M21.54,-3.7 L20.65,3.7" fill="none" stroke="#2b2927" stroke-width="0.95" stroke-linejoin="round" stroke-linecap="round"/>
<path d="M23.99,-3.17 L23.23,3.17" fill="none" stroke="#2b2927" stroke-width="0.95" stroke-linejoin="round" stroke-linecap="round"/>
<path d="M26.38,-2.64 L25.75,2.64" fill="none" stroke="#2b2927" stroke-width="0.95" stroke-linejoin="round" stroke-linecap="round"/>
<path d="M28.73,-2.13 L28.22,2.13" fill="none" stroke="#2b2927" stroke-width="0.95" stroke-linejoin="round" stroke-linecap="round"/>
<path d="M31.04,-1.63 L30.65,1.63" fill="none" stroke="#2b2927" stroke-width="0.95" stroke-linejoin="round" stroke-linecap="round"/>
<path d="M33.31,-1.13 L33.04,1.13" fill="none" stroke="#2b2927" stroke-width="0.95" stroke-linejoin="round" stroke-linecap="round"/>
<path d="M2.25,-6.02 L5,-2.9 L5,2.9 L2.25,6.02 Z" fill="#55534f" stroke="#2b2927" stroke-width="0.5" stroke-linejoin="round" />
<ellipse cx="1.5" cy="0" rx="2.1" ry="7" fill="url(#gHead)" stroke="#2b2927" stroke-width="0.8" />
</g>
<g transform="translate(610.2,1103.7) rotate(0)">
<path d="M3.75,-2.9 L17.3,-2.67 L34.6,0 L17.3,2.67 L3.75,2.9 Z" fill="url(#gShaft2)" stroke="#4a4845" stroke-width="0.5" stroke-linejoin="round" />
<path d="M7.37,-4.2 L6.36,4.2" fill="none" stroke="#2b2927" stroke-width="0.95" stroke-linejoin="round" stroke-linecap="round"/>
<path d="M10.46,-4.2 L9.45,4.2" fill="none" stroke="#2b2927" stroke-width="0.95" stroke-linejoin="round" stroke-linecap="round"/>
<path d="M13.29,-4.2 L12.28,4.2" fill="none" stroke="#2b2927" stroke-width="0.95" stroke-linejoin="round" stroke-linecap="round"/>
<path d="M15.96,-4.2 L14.96,4.2" fill="none" stroke="#2b2927" stroke-width="0.95" stroke-linejoin="round" stroke-linecap="round"/>
<path d="M18.54,-4.24 L17.52,4.24" fill="none" stroke="#2b2927" stroke-width="0.95" stroke-linejoin="round" stroke-linecap="round"/>
<path d="M20.97,-3.7 L20.08,3.7" fill="none" stroke="#2b2927" stroke-width="0.95" stroke-linejoin="round" stroke-linecap="round"/>
<path d="M23.33,-3.16 L22.57,3.16" fill="none" stroke="#2b2927" stroke-width="0.95" stroke-linejoin="round" stroke-linecap="round"/>
<path d="M25.65,-2.65 L25.01,2.65" fill="none" stroke="#2b2927" stroke-width="0.95" stroke-linejoin="round" stroke-linecap="round"/>
<path d="M27.92,-2.14 L27.4,2.14" fill="none" stroke="#2b2927" stroke-width="0.95" stroke-linejoin="round" stroke-linecap="round"/>
<path d="M30.15,-1.64 L29.75,1.64" fill="none" stroke="#2b2927" stroke-width="0.95" stroke-linejoin="round" stroke-linecap="round"/>
<path d="M32.34,-1.14 L32.07,1.14" fill="none" stroke="#2b2927" stroke-width="0.95" stroke-linejoin="round" stroke-linecap="round"/>
<path d="M2.25,-6.02 L5,-2.9 L5,2.9 L2.25,6.02 Z" fill="#55534f" stroke="#2b2927" stroke-width="0.5" stroke-linejoin="round" />
<ellipse cx="1.5" cy="0" rx="2.1" ry="7" fill="url(#gHead)" stroke="#2b2927" stroke-width="0.8" />
</g>
<text x="601.5" y="768.4" font-family="'DejaVu Sans Condensed','DejaVu Sans','Liberation Sans',sans-serif" font-size="17" fill="#1a1714" >2#</text>
<text x="608.3" y="1130" font-family="'DejaVu Sans Condensed','DejaVu Sans','Liberation Sans',sans-serif" font-size="17" fill="#1a1714" >2#</text>
<g transform="translate(527.5,811) scale(0.99)">
<path d="M2.2,-5.3 Q8,-5.6 14,-4.7 L14,4.7 Q8,5.6 2.2,5.3 Z" fill="url(#gPlug)" stroke="#a0a09e" stroke-width="0.5" stroke-linejoin="round" />
<ellipse cx="0" cy="0" rx="2.3" ry="8.8" fill="url(#gHead)" stroke="#3a3835" stroke-width="0.9" />
<ellipse cx="0.2" cy="0" rx="1" ry="7.2" fill="#b9b9b7" stroke="none" stroke-width="0" opacity="0.8"/>
</g>
<g transform="translate(527.5,1079.4) scale(0.99)">
<path d="M2.2,-5.3 Q8,-5.6 14,-4.7 L14,4.7 Q8,5.6 2.2,5.3 Z" fill="url(#gPlug)" stroke="#a0a09e" stroke-width="0.5" stroke-linejoin="round" />
<ellipse cx="0" cy="0" rx="2.3" ry="8.8" fill="url(#gHead)" stroke="#3a3835" stroke-width="0.9" />
<ellipse cx="0.2" cy="0" rx="1" ry="7.2" fill="#b9b9b7" stroke="none" stroke-width="0" opacity="0.8"/>
</g>
<text x="494.4" y="804.9" font-family="'DejaVu Sans Condensed','DejaVu Sans','Liberation Sans',sans-serif" font-size="17" fill="#1a1714" >4#</text>
<text x="500.8" y="1103" font-family="'DejaVu Sans Condensed','DejaVu Sans','Liberation Sans',sans-serif" font-size="17" fill="#1a1714" >4#</text></g>
<g id="legend"><text transform="translate(1741.8,258) scale(1.02,1)" font-family="'DejaVu Sans Condensed','DejaVu Sans','Liberation Sans',sans-serif" font-size="19.1" fill="#1a1714" >1#</text>
<text transform="translate(1741.8,285.1) scale(1.02,1)" font-family="'DejaVu Sans Condensed','DejaVu Sans','Liberation Sans',sans-serif" font-size="19.1" fill="#1a1714" >2#</text>
<text transform="translate(1741.8,312) scale(1.02,1)" font-family="'DejaVu Sans Condensed','DejaVu Sans','Liberation Sans',sans-serif" font-size="19.1" fill="#1a1714" >3#</text>
<text transform="translate(1741.8,338.9) scale(1.02,1)" font-family="'DejaVu Sans Condensed','DejaVu Sans','Liberation Sans',sans-serif" font-size="19.1" fill="#1a1714" >4#</text>
<g transform="translate(1779.6,250.2) rotate(0)">
<rect x="1.5" y="-7.1" width="109.8" height="14.2" rx="0.5" fill="url(#pThreadD)" stroke="none" stroke-width="0" />
<rect x="1.5" y="-7.1" width="109.8" height="14.2" rx="0.5" fill="none" stroke="#3d3b38" stroke-width="0.5" opacity="0.6"/>
<path d="M0,-10.22 C3.2,-8.18 3.2,-7.6 3.6,-7.1 L3.6,7.1 C3.2,7.6 3.2,8.18 0,10.22 C-2.6,5.11 -2.6,-5.11 0,-10.22 Z" fill="url(#gHead)" stroke="#4a4845" stroke-width="0.7" stroke-linejoin="round" />
</g>
<g transform="translate(1777.8,276.2) rotate(0)">
<path d="M4.8,-4.4 L31.5,-4.05 L63,0 L31.5,4.05 L4.8,4.4 Z" fill="url(#gShaft2)" stroke="#4a4845" stroke-width="0.5" stroke-linejoin="round" />
<path d="M11.56,-6.2 L10.07,6.2" fill="none" stroke="#2b2927" stroke-width="1.5" stroke-linejoin="round" stroke-linecap="round"/>
<path d="M17.53,-6.2 L16.04,6.2" fill="none" stroke="#2b2927" stroke-width="1.5" stroke-linejoin="round" stroke-linecap="round"/>
<path d="M23,-6.2 L21.51,6.2" fill="none" stroke="#2b2927" stroke-width="1.5" stroke-linejoin="round" stroke-linecap="round"/>
<path d="M28.17,-6.2 L26.68,6.2" fill="none" stroke="#2b2927" stroke-width="1.5" stroke-linejoin="round" stroke-linecap="round"/>
<path d="M33.14,-6.24 L31.64,6.24" fill="none" stroke="#2b2927" stroke-width="1.5" stroke-linejoin="round" stroke-linecap="round"/>
<path d="M37.86,-5.39 L36.56,5.39" fill="none" stroke="#2b2927" stroke-width="1.5" stroke-linejoin="round" stroke-linecap="round"/>
<path d="M42.45,-4.56 L41.35,4.56" fill="none" stroke="#2b2927" stroke-width="1.5" stroke-linejoin="round" stroke-linecap="round"/>
<path d="M46.94,-3.74 L46.04,3.74" fill="none" stroke="#2b2927" stroke-width="1.5" stroke-linejoin="round" stroke-linecap="round"/>
<path d="M51.34,-2.95 L50.64,2.95" fill="none" stroke="#2b2927" stroke-width="1.5" stroke-linejoin="round" stroke-linecap="round"/>
<path d="M55.68,-2.16 L55.16,2.16" fill="none" stroke="#2b2927" stroke-width="1.5" stroke-linejoin="round" stroke-linecap="round"/>
<path d="M59.94,-1.39 L59.61,1.39" fill="none" stroke="#2b2927" stroke-width="1.5" stroke-linejoin="round" stroke-linecap="round"/>
<path d="M2.88,-9.72 L6.4,-4.4 L6.4,4.4 L2.88,9.72 Z" fill="#55534f" stroke="#2b2927" stroke-width="0.5" stroke-linejoin="round" />
<ellipse cx="1.92" cy="0" rx="2.69" ry="11.3" fill="url(#gHead)" stroke="#2b2927" stroke-width="0.8" />
</g>
<g transform="translate(1780.4,303.1) rotate(0) scale(1)">
<rect x="9" y="-5.8" width="18" height="11.6" rx="1.2" fill="url(#pThreadB)" stroke="none" stroke-width="0" />
<rect x="9" y="-5.8" width="18" height="11.6" rx="1.2" fill="url(#gBlk)" stroke="none" stroke-width="0" opacity="0.45"/>
<rect x="0" y="-8.8" width="9.8" height="17.6" rx="1.6" fill="url(#gBlk)" stroke="#0a0a0a" stroke-width="0.6" />
</g>
<g transform="translate(1783.8,330.1) scale(0.98)">
<path d="M2.2,-5.3 Q8,-5.6 12.4,-4.7 L12.4,4.7 Q8,5.6 2.2,5.3 Z" fill="url(#gPlug)" stroke="#a0a09e" stroke-width="0.5" stroke-linejoin="round" />
<ellipse cx="0" cy="0" rx="2.3" ry="8.8" fill="url(#gHead)" stroke="#3a3835" stroke-width="0.9" />
<ellipse cx="0.2" cy="0" rx="1" ry="7.2" fill="#b9b9b7" stroke="none" stroke-width="0" opacity="0.8"/>
</g></g>
<g id="keycyl"><path d="M1377,931 L1389.4,933.4 L1391,931 L1398,931.6 L1398,963 L1383,961 L1371,955.8 Q1369.6,947 1370.4,939 Q1371.4,931.6 1377,931 Z" fill="url(#gCyl)" stroke="none" stroke-width="0" stroke-linejoin="round" />
<g transform="translate(1405.4,952) rotate(19)">
<ellipse cx="0" cy="0" rx="17.6" ry="24.4" fill="url(#gCylF)" stroke="none" stroke-width="0" />
<ellipse cx="-0.6" cy="-4" rx="10.2" ry="15.4" fill="url(#gCylI)" stroke="#4a4330" stroke-width="0.6" />
</g>
<polygon points="1407.4,938.2 1411,939.4 1408.8,945.4 1410.4,946.2 1407.2,950.4 1408.2,951 1402.6,957 1401.8,956.4 1405,947.5" fill="#f4f4f2" stroke="#2a2826" stroke-width="0.9" stroke-linejoin="round" /></g>
<g id="frontplate"><clipPath id="cOut"><path d="M1612.8,726.9 C1612.8,718.5 1618.4,712.9 1626.8,712.9 C1627.57,709.81 1629.45,700.55 1631.39,694.38 C1633.33,688.2 1635.43,681.75 1638.44,675.85 C1641.45,669.95 1645.17,663.99 1649.46,658.96 C1653.75,653.92 1657.73,648.98 1664.16,645.62 C1670.59,642.26 1680.09,638.8 1688.05,638.8 C1696.01,638.8 1705.51,642.26 1711.94,645.62 C1718.37,648.98 1722.35,653.92 1726.64,658.96 C1730.92,663.99 1734.65,669.95 1737.66,675.85 C1740.67,681.75 1742.77,688.2 1744.71,694.38 C1746.65,700.55 1748.53,709.81 1749.3,712.9 C1757.7,712.9 1763.3,718.5 1763.3,726.9 L1763.3,1182.6 C1763.3,1191 1756.38,1196.6 1746,1196.6 C1745.42,1198.17 1744.07,1202.3 1742.52,1206.04 C1740.98,1209.78 1739.34,1214.5 1736.73,1219.02 C1734.12,1223.54 1730.64,1228.75 1726.88,1233.18 C1723.11,1237.6 1718.67,1242.18 1714.13,1245.57 C1709.59,1248.96 1703.99,1251.86 1699.64,1253.53 C1695.29,1255.21 1691.91,1255.6 1688.05,1255.6 C1684.19,1255.6 1680.81,1255.21 1676.46,1253.53 C1672.11,1251.86 1666.51,1248.96 1661.97,1245.57 C1657.43,1242.18 1652.99,1237.6 1649.22,1233.18 C1645.46,1228.75 1641.98,1223.54 1639.37,1219.02 C1636.76,1214.5 1635.12,1209.78 1633.58,1206.04 C1632.03,1202.3 1630.68,1198.17 1630.1,1196.6 C1619.72,1196.6 1612.8,1191 1612.8,1182.6 Z"/></clipPath>
<path d="M1612.8,726.9 C1612.8,718.5 1618.4,712.9 1626.8,712.9 C1627.57,709.81 1629.45,700.55 1631.39,694.38 C1633.33,688.2 1635.43,681.75 1638.44,675.85 C1641.45,669.95 1645.17,663.99 1649.46,658.96 C1653.75,653.92 1657.73,648.98 1664.16,645.62 C1670.59,642.26 1680.09,638.8 1688.05,638.8 C1696.01,638.8 1705.51,642.26 1711.94,645.62 C1718.37,648.98 1722.35,653.92 1726.64,658.96 C1730.92,663.99 1734.65,669.95 1737.66,675.85 C1740.67,681.75 1742.77,688.2 1744.71,694.38 C1746.65,700.55 1748.53,709.81 1749.3,712.9 C1757.7,712.9 1763.3,718.5 1763.3,726.9 L1763.3,1182.6 C1763.3,1191 1756.38,1196.6 1746,1196.6 C1745.42,1198.17 1744.07,1202.3 1742.52,1206.04 C1740.98,1209.78 1739.34,1214.5 1736.73,1219.02 C1734.12,1223.54 1730.64,1228.75 1726.88,1233.18 C1723.11,1237.6 1718.67,1242.18 1714.13,1245.57 C1709.59,1248.96 1703.99,1251.86 1699.64,1253.53 C1695.29,1255.21 1691.91,1255.6 1688.05,1255.6 C1684.19,1255.6 1680.81,1255.21 1676.46,1253.53 C1672.11,1251.86 1666.51,1248.96 1661.97,1245.57 C1657.43,1242.18 1652.99,1237.6 1649.22,1233.18 C1645.46,1228.75 1641.98,1223.54 1639.37,1219.02 C1636.76,1214.5 1635.12,1209.78 1633.58,1206.04 C1632.03,1202.3 1630.68,1198.17 1630.1,1196.6 C1619.72,1196.6 1612.8,1191 1612.8,1182.6 Z" fill="#fff" stroke="none" stroke-width="0" stroke-linejoin="round" />
<g clip-path="url(#cOut)">
<path d="M1618.4,736.8 C1618.4,728.4 1624.12,722.8 1632.7,722.8 C1633.39,719.87 1635.1,711.07 1636.85,705.2 C1638.61,699.33 1640.5,693.21 1643.23,687.6 C1645.95,681.99 1649.32,676.34 1653.2,671.55 C1657.08,666.76 1660.68,662.07 1666.49,658.88 C1672.31,655.69 1680.9,652.4 1688.1,652.4 C1695.3,652.4 1703.89,655.69 1709.71,658.88 C1715.52,662.07 1719.12,666.76 1723,671.55 C1726.88,676.34 1730.25,681.99 1732.97,687.6 C1735.7,693.21 1737.59,699.33 1739.35,705.2 C1741.1,711.07 1742.81,719.87 1743.5,722.8 C1752.08,722.8 1757.8,728.4 1757.8,736.8 L1757.8,1169.2 C1757.8,1177.6 1751.32,1183.2 1741.6,1183.2 C1741.06,1184.69 1739.82,1188.61 1738.39,1192.16 C1736.96,1195.71 1735.45,1200.19 1733.04,1204.48 C1730.63,1208.77 1727.42,1213.72 1723.94,1217.92 C1720.47,1222.12 1716.37,1226.46 1712.17,1229.68 C1707.98,1232.9 1702.81,1235.65 1698.8,1237.24 C1694.79,1238.83 1691.67,1239.2 1688.1,1239.2 C1684.53,1239.2 1681.41,1238.83 1677.4,1237.24 C1673.39,1235.65 1668.22,1232.9 1664.02,1229.68 C1659.83,1226.46 1655.73,1222.12 1652.25,1217.92 C1648.78,1213.72 1645.57,1208.77 1643.16,1204.48 C1640.75,1200.19 1639.24,1195.71 1637.81,1192.16 C1636.38,1188.61 1635.13,1184.69 1634.6,1183.2 C1624.88,1183.2 1618.4,1177.6 1618.4,1169.2 Z" fill="none" stroke="#b9b9b7" stroke-width="5" stroke-linejoin="round" filter="url(#fBlur2)" opacity="0.55" transform="translate(-1.5,1)"/>
</g>
<path d="M1612.8,726.9 C1612.8,718.5 1618.4,712.9 1626.8,712.9 C1627.57,709.81 1629.45,700.55 1631.39,694.38 C1633.33,688.2 1635.43,681.75 1638.44,675.85 C1641.45,669.95 1645.17,663.99 1649.46,658.96 C1653.75,653.92 1657.73,648.98 1664.16,645.62 C1670.59,642.26 1680.09,638.8 1688.05,638.8 C1696.01,638.8 1705.51,642.26 1711.94,645.62 C1718.37,648.98 1722.35,653.92 1726.64,658.96 C1730.92,663.99 1734.65,669.95 1737.66,675.85 C1740.67,681.75 1742.77,688.2 1744.71,694.38 C1746.65,700.55 1748.53,709.81 1749.3,712.9 C1757.7,712.9 1763.3,718.5 1763.3,726.9 L1763.3,1182.6 C1763.3,1191 1756.38,1196.6 1746,1196.6 C1745.42,1198.17 1744.07,1202.3 1742.52,1206.04 C1740.98,1209.78 1739.34,1214.5 1736.73,1219.02 C1734.12,1223.54 1730.64,1228.75 1726.88,1233.18 C1723.11,1237.6 1718.67,1242.18 1714.13,1245.57 C1709.59,1248.96 1703.99,1251.86 1699.64,1253.53 C1695.29,1255.21 1691.91,1255.6 1688.05,1255.6 C1684.19,1255.6 1680.81,1255.21 1676.46,1253.53 C1672.11,1251.86 1666.51,1248.96 1661.97,1245.57 C1657.43,1242.18 1652.99,1237.6 1649.22,1233.18 C1645.46,1228.75 1641.98,1223.54 1639.37,1219.02 C1636.76,1214.5 1635.12,1209.78 1633.58,1206.04 C1632.03,1202.3 1630.68,1198.17 1630.1,1196.6 C1619.72,1196.6 1612.8,1191 1612.8,1182.6 Z" fill="none" stroke="#1a1714" stroke-width="1.7" stroke-linejoin="round" />
<clipPath id="cMid"><path d="M1618.4,736.8 C1618.4,728.4 1624.12,722.8 1632.7,722.8 C1633.39,719.87 1635.1,711.07 1636.85,705.2 C1638.61,699.33 1640.5,693.21 1643.23,687.6 C1645.95,681.99 1649.32,676.34 1653.2,671.55 C1657.08,666.76 1660.68,662.07 1666.49,658.88 C1672.31,655.69 1680.9,652.4 1688.1,652.4 C1695.3,652.4 1703.89,655.69 1709.71,658.88 C1715.52,662.07 1719.12,666.76 1723,671.55 C1726.88,676.34 1730.25,681.99 1732.97,687.6 C1735.7,693.21 1737.59,699.33 1739.35,705.2 C1741.1,711.07 1742.81,719.87 1743.5,722.8 C1752.08,722.8 1757.8,728.4 1757.8,736.8 L1757.8,1169.2 C1757.8,1177.6 1751.32,1183.2 1741.6,1183.2 C1741.06,1184.69 1739.82,1188.61 1738.39,1192.16 C1736.96,1195.71 1735.45,1200.19 1733.04,1204.48 C1730.63,1208.77 1727.42,1213.72 1723.94,1217.92 C1720.47,1222.12 1716.37,1226.46 1712.17,1229.68 C1707.98,1232.9 1702.81,1235.65 1698.8,1237.24 C1694.79,1238.83 1691.67,1239.2 1688.1,1239.2 C1684.53,1239.2 1681.41,1238.83 1677.4,1237.24 C1673.39,1235.65 1668.22,1232.9 1664.02,1229.68 C1659.83,1226.46 1655.73,1222.12 1652.25,1217.92 C1648.78,1213.72 1645.57,1208.77 1643.16,1204.48 C1640.75,1200.19 1639.24,1195.71 1637.81,1192.16 C1636.38,1188.61 1635.13,1184.69 1634.6,1183.2 C1624.88,1183.2 1618.4,1177.6 1618.4,1169.2 Z"/></clipPath>
<path d="M1618.4,736.8 C1618.4,728.4 1624.12,722.8 1632.7,722.8 C1633.39,719.87 1635.1,711.07 1636.85,705.2 C1638.61,699.33 1640.5,693.21 1643.23,687.6 C1645.95,681.99 1649.32,676.34 1653.2,671.55 C1657.08,666.76 1660.68,662.07 1666.49,658.88 C1672.31,655.69 1680.9,652.4 1688.1,652.4 C1695.3,652.4 1703.89,655.69 1709.71,658.88 C1715.52,662.07 1719.12,666.76 1723,671.55 C1726.88,676.34 1730.25,681.99 1732.97,687.6 C1735.7,693.21 1737.59,699.33 1739.35,705.2 C1741.1,711.07 1742.81,719.87 1743.5,722.8 C1752.08,722.8 1757.8,728.4 1757.8,736.8 L1757.8,1169.2 C1757.8,1177.6 1751.32,1183.2 1741.6,1183.2 C1741.06,1184.69 1739.82,1188.61 1738.39,1192.16 C1736.96,1195.71 1735.45,1200.19 1733.04,1204.48 C1730.63,1208.77 1727.42,1213.72 1723.94,1217.92 C1720.47,1222.12 1716.37,1226.46 1712.17,1229.68 C1707.98,1232.9 1702.81,1235.65 1698.8,1237.24 C1694.79,1238.83 1691.67,1239.2 1688.1,1239.2 C1684.53,1239.2 1681.41,1238.83 1677.4,1237.24 C1673.39,1235.65 1668.22,1232.9 1664.02,1229.68 C1659.83,1226.46 1655.73,1222.12 1652.25,1217.92 C1648.78,1213.72 1645.57,1208.77 1643.16,1204.48 C1640.75,1200.19 1639.24,1195.71 1637.81,1192.16 C1636.38,1188.61 1635.13,1184.69 1634.6,1183.2 C1624.88,1183.2 1618.4,1177.6 1618.4,1169.2 Z" fill="#fff" stroke="none" stroke-width="0" stroke-linejoin="round" />
<g clip-path="url(#cMid)">
<path d="M1624.7,747 C1624.7,739.2 1629.9,734 1637.7,734 C1638.33,731.2 1639.88,722.8 1641.48,717.2 C1643.08,711.6 1644.8,705.75 1647.28,700.4 C1649.75,695.05 1652.82,689.65 1656.35,685.08 C1659.88,680.51 1663.15,676.03 1668.44,672.98 C1673.74,669.94 1681.55,666.8 1688.1,666.8 C1694.65,666.8 1702.46,669.94 1707.76,672.98 C1713.05,676.03 1716.32,680.51 1719.85,685.08 C1723.38,689.65 1726.45,695.05 1728.92,700.4 C1731.4,705.75 1733.12,711.6 1734.72,717.2 C1736.32,722.8 1737.87,731.2 1738.5,734 C1746.3,734 1751.5,739.2 1751.5,747 L1751.5,1158.1 C1751.5,1165.9 1745.42,1171.1 1736.3,1171.1 C1735.82,1172.53 1734.69,1176.3 1733.41,1179.71 C1732.12,1183.12 1730.76,1187.42 1728.59,1191.54 C1726.42,1195.67 1723.53,1200.42 1720.39,1204.46 C1717.26,1208.49 1713.57,1212.66 1709.79,1215.75 C1706.01,1218.85 1701.36,1221.49 1697.74,1223.02 C1694.12,1224.54 1691.31,1224.9 1688.1,1224.9 C1684.89,1224.9 1682.07,1224.54 1678.46,1223.02 C1674.84,1221.49 1670.19,1218.85 1666.41,1215.75 C1662.63,1212.66 1658.94,1208.49 1655.81,1204.46 C1652.67,1200.42 1649.78,1195.67 1647.61,1191.54 C1645.44,1187.42 1644.08,1183.12 1642.79,1179.71 C1641.51,1176.3 1640.38,1172.53 1639.9,1171.1 C1630.78,1171.1 1624.7,1165.9 1624.7,1158.1 Z" fill="none" stroke="#9a9a98" stroke-width="6.5" stroke-linejoin="round" filter="url(#fBlur2)" opacity="0.85" transform="translate(-0.6,0.6)"/>
</g>
<path d="M1618.4,736.8 C1618.4,728.4 1624.12,722.8 1632.7,722.8 C1633.39,719.87 1635.1,711.07 1636.85,705.2 C1638.61,699.33 1640.5,693.21 1643.23,687.6 C1645.95,681.99 1649.32,676.34 1653.2,671.55 C1657.08,666.76 1660.68,662.07 1666.49,658.88 C1672.31,655.69 1680.9,652.4 1688.1,652.4 C1695.3,652.4 1703.89,655.69 1709.71,658.88 C1715.52,662.07 1719.12,666.76 1723,671.55 C1726.88,676.34 1730.25,681.99 1732.97,687.6 C1735.7,693.21 1737.59,699.33 1739.35,705.2 C1741.1,711.07 1742.81,719.87 1743.5,722.8 C1752.08,722.8 1757.8,728.4 1757.8,736.8 L1757.8,1169.2 C1757.8,1177.6 1751.32,1183.2 1741.6,1183.2 C1741.06,1184.69 1739.82,1188.61 1738.39,1192.16 C1736.96,1195.71 1735.45,1200.19 1733.04,1204.48 C1730.63,1208.77 1727.42,1213.72 1723.94,1217.92 C1720.47,1222.12 1716.37,1226.46 1712.17,1229.68 C1707.98,1232.9 1702.81,1235.65 1698.8,1237.24 C1694.79,1238.83 1691.67,1239.2 1688.1,1239.2 C1684.53,1239.2 1681.41,1238.83 1677.4,1237.24 C1673.39,1235.65 1668.22,1232.9 1664.02,1229.68 C1659.83,1226.46 1655.73,1222.12 1652.25,1217.92 C1648.78,1213.72 1645.57,1208.77 1643.16,1204.48 C1640.75,1200.19 1639.24,1195.71 1637.81,1192.16 C1636.38,1188.61 1635.13,1184.69 1634.6,1183.2 C1624.88,1183.2 1618.4,1177.6 1618.4,1169.2 Z" fill="none" stroke="#1a1714" stroke-width="1.6" stroke-linejoin="round" />
<path d="M1624.7,747 C1624.7,739.2 1629.9,734 1637.7,734 C1638.33,731.2 1639.88,722.8 1641.48,717.2 C1643.08,711.6 1644.8,705.75 1647.28,700.4 C1649.75,695.05 1652.82,689.65 1656.35,685.08 C1659.88,680.51 1663.15,676.03 1668.44,672.98 C1673.74,669.94 1681.55,666.8 1688.1,666.8 C1694.65,666.8 1702.46,669.94 1707.76,672.98 C1713.05,676.03 1716.32,680.51 1719.85,685.08 C1723.38,689.65 1726.45,695.05 1728.92,700.4 C1731.4,705.75 1733.12,711.6 1734.72,717.2 C1736.32,722.8 1737.87,731.2 1738.5,734 C1746.3,734 1751.5,739.2 1751.5,747 L1751.5,1158.1 C1751.5,1165.9 1745.42,1171.1 1736.3,1171.1 C1735.82,1172.53 1734.69,1176.3 1733.41,1179.71 C1732.12,1183.12 1730.76,1187.42 1728.59,1191.54 C1726.42,1195.67 1723.53,1200.42 1720.39,1204.46 C1717.26,1208.49 1713.57,1212.66 1709.79,1215.75 C1706.01,1218.85 1701.36,1221.49 1697.74,1223.02 C1694.12,1224.54 1691.31,1224.9 1688.1,1224.9 C1684.89,1224.9 1682.07,1224.54 1678.46,1223.02 C1674.84,1221.49 1670.19,1218.85 1666.41,1215.75 C1662.63,1212.66 1658.94,1208.49 1655.81,1204.46 C1652.67,1200.42 1649.78,1195.67 1647.61,1191.54 C1645.44,1187.42 1644.08,1183.12 1642.79,1179.71 C1641.51,1176.3 1640.38,1172.53 1639.9,1171.1 C1630.78,1171.1 1624.7,1165.9 1624.7,1158.1 Z" fill="#f8c301" stroke="#1a1714" stroke-width="1.6" stroke-linejoin="round" />
<rect x="1637.7" y="745.8" width="99.8" height="110.4" rx="4.5" fill="#0b0c0e" stroke="#2a2320" stroke-width="1.2" />
<circle cx="1688.7" cy="1084.4" r="29.7" fill="#e9b708" stroke="#1a1714" stroke-width="2" />
<path d="M1927.9,949.4 C1927.07,948.87 1925.43,947.57 1922.9,946.2 C1920.37,944.83 1918,943.17 1912.7,941.2 C1907.4,939.23 1898.32,935.97 1891.1,934.4 C1883.88,932.83 1876.15,931.88 1869.4,931.8 C1862.65,931.72 1856.62,932.47 1850.6,933.9 C1844.58,935.33 1838.58,937.63 1833.3,940.4 C1828.02,943.17 1823.72,946.4 1818.9,950.5 C1814.08,954.6 1809.22,959.7 1804.4,965 C1799.58,970.3 1794.33,977.73 1790,982.3 C1785.67,986.87 1782.73,989.75 1778.4,992.4 C1774.07,995.05 1769.28,997.03 1764,998.2 C1758.72,999.37 1753.2,999.88 1746.7,999.4 C1740.2,998.92 1732.23,997.42 1725,995.3 C1717.77,993.18 1709.8,989.83 1703.3,986.7 C1696.8,983.57 1690.82,980.12 1686,976.5 C1681.18,972.88 1677.05,968.85 1674.4,965 C1671.75,961.15 1670.57,957.02 1670.1,953.4 C1669.63,949.78 1670.15,946.67 1671.6,943.3 C1673.05,939.93 1675.68,935.48 1678.8,933.2 C1681.92,930.92 1686.45,929.48 1690.3,929.6 C1694.15,929.72 1699,931.85 1701.9,933.9 C1704.8,935.95 1706.3,938.65 1707.7,941.9 C1709.1,945.15 1709.7,949.8 1710.3,953.4 C1710.9,957 1710.53,960.48 1711.3,963.5 C1712.07,966.52 1712.87,969.08 1714.9,971.5 C1716.93,973.92 1719.65,976.08 1723.5,978 C1727.35,979.92 1733.18,981.92 1738,983 C1742.82,984.08 1748.07,984.73 1752.4,984.5 C1756.73,984.27 1760.63,983.17 1764,981.6 C1767.37,980.03 1769.95,978.1 1772.6,975.1 C1775.25,972.1 1777.48,967.93 1779.9,963.6 C1782.32,959.27 1784.45,953.68 1787.1,949.1 C1789.75,944.52 1792.18,940.18 1795.8,936.1 C1799.42,932.02 1803.75,927.97 1808.8,924.6 C1813.85,921.23 1819.6,918.12 1826.1,915.9 C1832.6,913.68 1840.58,912.15 1847.8,911.3 C1855.02,910.45 1862.18,910.4 1869.4,910.8 C1876.62,911.2 1884.35,912.25 1891.1,913.7 C1897.85,915.15 1904.37,917.22 1909.9,919.5 C1915.43,921.78 1920.58,924.75 1924.3,927.4 C1928.02,930.05 1930.52,933.1 1932.2,935.4 C1933.88,937.7 1934.4,939.4 1934.4,941.2 C1934.4,943 1933.28,944.83 1932.2,946.2 C1931.12,947.57 1928.62,948.87 1927.9,949.4 Z" fill="#f8c301" stroke="#1a1714" stroke-width="2.1" stroke-linejoin="round" /></g>
<g id="leaders"><g opacity="0.82">
<line x1="493.5" y1="99" x2="476.8" y2="305" stroke="#3a94cc" stroke-width="1" />
<line x1="679.2" y1="100" x2="658.8" y2="623.8" stroke="#3a94cc" stroke-width="1" />
<line x1="862.5" y1="97.5" x2="792.3" y2="607.6" stroke="#3a94cc" stroke-width="1" />
<line x1="1135.8" y1="94.2" x2="1120.8" y2="403.9" stroke="#3a94cc" stroke-width="1" />
<line x1="1538.2" y1="96.2" x2="1687.2" y2="800.5" stroke="#3a94cc" stroke-width="1" />
<line x1="183" y1="1320.5" x2="360" y2="1010" stroke="#3a94cc" stroke-width="1" />
<line x1="440.5" y1="1325" x2="564.2" y2="1108.2" stroke="#3a94cc" stroke-width="1" />
<line x1="638.4" y1="1320.8" x2="716.7" y2="1039.2" stroke="#3a94cc" stroke-width="1" />
<line x1="770.5" y1="1326.8" x2="800.4" y2="1170.4" stroke="#3a94cc" stroke-width="1" />
<line x1="1174.2" y1="1330.8" x2="1382.8" y2="965.2" stroke="#3a94cc" stroke-width="1" />
<line x1="1405.5" y1="1330.8" x2="1481.2" y2="874" stroke="#3a94cc" stroke-width="1" />
<line x1="1626.8" y1="1330.8" x2="1688.9" y2="1085.1" stroke="#3a94cc" stroke-width="1" />
<line x1="1819.2" y1="1325" x2="1874.6" y2="933.4" stroke="#3a94cc" stroke-width="1" />
<line x1="759.7" y1="889.1" x2="791.9" y2="1073.8" stroke="#3a94cc" stroke-width="1" />
</g>
<circle cx="493.5" cy="99" r="8.5" fill="#0a78c4" stroke="none" stroke-width="0" />
<circle cx="679.2" cy="100" r="8.5" fill="#0a78c4" stroke="none" stroke-width="0" />
<circle cx="862.5" cy="97.5" r="8.5" fill="#0a78c4" stroke="none" stroke-width="0" />
<circle cx="1135.8" cy="94.2" r="8.5" fill="#0a78c4" stroke="none" stroke-width="0" />
<circle cx="1538.2" cy="96.2" r="8.5" fill="#0a78c4" stroke="none" stroke-width="0" />
<circle cx="183" cy="1320.5" r="8.5" fill="#0a78c4" stroke="none" stroke-width="0" />
<circle cx="440.5" cy="1325" r="8.5" fill="#0a78c4" stroke="none" stroke-width="0" />
<circle cx="638.4" cy="1320.8" r="8.5" fill="#0a78c4" stroke="none" stroke-width="0" />
<circle cx="770.5" cy="1326.8" r="8.5" fill="#0a78c4" stroke="none" stroke-width="0" />
<circle cx="1174.2" cy="1330.8" r="8.5" fill="#0a78c4" stroke="none" stroke-width="0" />
<circle cx="1405.5" cy="1330.8" r="8.5" fill="#0a78c4" stroke="none" stroke-width="0" />
<circle cx="1626.8" cy="1330.8" r="8.5" fill="#0a78c4" stroke="none" stroke-width="0" />
<circle cx="1819.2" cy="1325" r="8.5" fill="#0a78c4" stroke="none" stroke-width="0" /></g>
<g id="labels"><text transform="translate(512.4,94.9) scale(1,0.955)" font-family="'Liberation Sans','Noto Sans CJK SC',sans-serif" font-size="31.2" fill="#1a1714" >电池盒</text>
<text transform="translate(514.2,132) scale(1,0.955)" font-family="'Liberation Sans','Noto Sans CJK SC',sans-serif" font-size="31.2" fill="#1a1714" letter-spacing="1.5">4*1.5V</text>
<text transform="translate(700.2,96) scale(1,0.955)" font-family="'Liberation Sans','Noto Sans CJK SC',sans-serif" font-size="31" fill="#1a1714" >长方铀</text>
<text transform="translate(889.3,92) scale(1,0.955)" font-family="'Liberation Sans','Noto Sans CJK SC',sans-serif" font-size="31" fill="#1a1714" >把手方铀</text>
<text transform="translate(889.3,131) scale(1,0.955)" font-family="'Liberation Sans','Noto Sans CJK SC',sans-serif" font-size="31" fill="#1a1714" ><tspan dx="-10">（</tspan><tspan dx="10.5">粗方铀</tspan><tspan dx="9.5">）</tspan></text>
<text transform="translate(1156.8,94) scale(1,0.955)" font-family="'Liberation Sans','Noto Sans CJK SC',sans-serif" font-size="31" fill="#1a1714" >展板<tspan letter-spacing="2">/</tspan>木门</text>
<text transform="translate(1561.3,92.4) scale(1,0.955)" font-family="'Liberation Sans','Noto Sans CJK SC',sans-serif" font-size="31" fill="#1a1714" >感应区域</text>
<text transform="translate(211,1344.8) scale(1,0.955)" font-family="'Liberation Sans','Noto Sans CJK SC',sans-serif" font-size="27" fill="#1a1714" >锁扣板</text>
<text transform="translate(461.6,1346.8) scale(1,0.955)" font-family="'Liberation Sans','Noto Sans CJK SC',sans-serif" font-size="31" fill="#1a1714" >边条</text>
<text transform="translate(653,1345) scale(1,0.955)" font-family="'Liberation Sans','Noto Sans CJK SC',sans-serif" font-size="31" fill="#1a1714" >锁体</text>
<text transform="translate(788,1317.2) scale(1,0.955)" font-family="'Liberation Sans','Noto Sans CJK SC',sans-serif" font-size="31" fill="#1a1714" >游离件</text>
<text transform="translate(788.6,1347.2) scale(1,0.955)" font-family="'Liberation Sans','Noto Sans CJK SC',sans-serif" font-size="22.1" fill="#1a1714" >安装前把游离件箭头方向</text>
<text transform="translate(788.6,1373.8) scale(1,0.955)" font-family="'Liberation Sans','Noto Sans CJK SC',sans-serif" font-size="22.1" fill="#1a1714" >指向锁舌方向</text>
<text transform="translate(1192.4,1353.6) scale(1,0.955)" font-family="'Liberation Sans','Noto Sans CJK SC',sans-serif" font-size="31" fill="#1a1714" >机械锁头</text>
<text transform="translate(1436.8,1318.2) scale(1,0.955)" font-family="'Liberation Sans','Noto Sans CJK SC',sans-serif" font-size="31" fill="#1a1714" >把手方铀</text>
<text transform="translate(1437.6,1357.2) scale(1,0.955)" font-family="'Liberation Sans','Noto Sans CJK SC',sans-serif" font-size="31" fill="#1a1714" ><tspan letter-spacing="2">/</tspan>大方铀</text>
<text transform="translate(1639,1347.2) scale(1,0.955)" font-family="'Liberation Sans','Noto Sans CJK SC',sans-serif" font-size="31" fill="#1a1714" >锁钥面盖</text>
<text transform="translate(1833.6,1349.2) scale(1,0.955)" font-family="'Liberation Sans','Noto Sans CJK SC',sans-serif" font-size="31" fill="#1a1714" >把手</text></g>
</svg>
</body>
</html>
